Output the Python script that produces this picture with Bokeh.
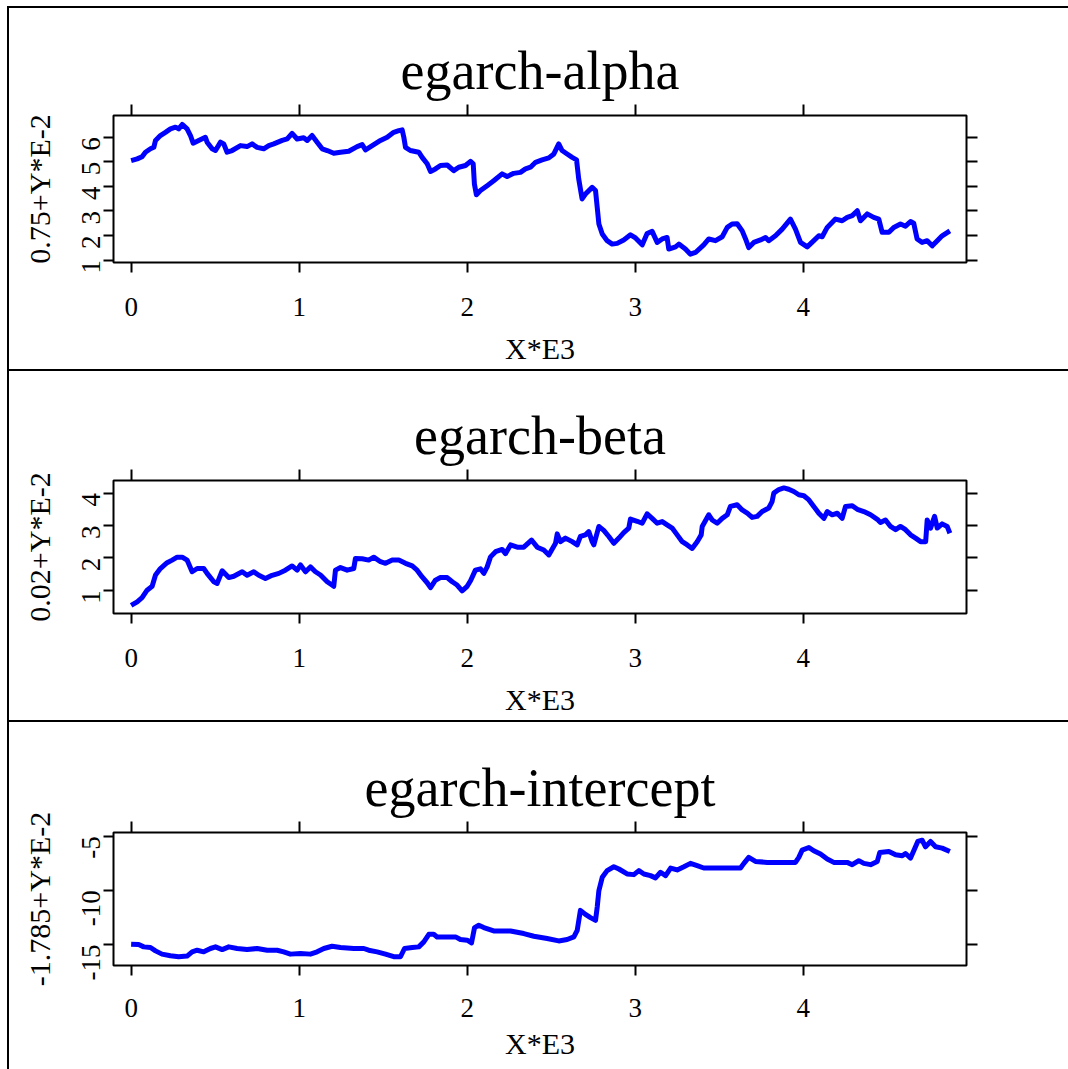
import math
from bokeh.plotting import figure
from bokeh.layouts import column, row
from bokeh.models import LinearAxis, FixedTicker, Range1d, Spacer
from bokeh.embed import file_html
from bokeh.resources import INLINE

FONT = "Liberation Serif"

# ---------------- data (x in thousands, as on the "X*E3" axis) ----------------
x_ticks = [0, 1, 2, 3, 4]

alpha_x = [0, 0.036, 0.065, 0.085, 0.115, 0.135, 0.145, 0.174, 0.204, 0.234,
           0.264, 0.283, 0.304, 0.333, 0.353, 0.369, 0.402, 0.442, 0.452, 0.482,
           0.502, 0.532, 0.551, 0.571, 0.601, 0.651, 0.690, 0.720, 0.750, 0.789,
           0.819, 0.849, 0.899, 0.929, 0.958, 0.988, 1.027, 1.048, 1.077, 1.107,
           1.137, 1.167, 1.206, 1.246, 1.295, 1.345, 1.375, 1.395, 1.435, 1.484,
           1.524, 1.563, 1.593, 1.613, 1.623, 1.633, 1.662, 1.712, 1.732, 1.762,
           1.782, 1.811, 1.841, 1.881, 1.920, 1.950, 1.990, 2.020, 2.036, 2.043,
           2.055, 2.079, 2.119, 2.158, 2.208, 2.238, 2.277, 2.317, 2.347, 2.377,
           2.407, 2.446, 2.486, 2.516, 2.545, 2.565, 2.595, 2.625, 2.651, 2.664,
           2.684, 2.704, 2.744, 2.764, 2.774, 2.784, 2.804, 2.833, 2.863, 2.893,
           2.932, 2.972, 3.002, 3.042, 3.071, 3.101, 3.131, 3.161, 3.190, 3.200,
           3.240, 3.260, 3.299, 3.329, 3.359, 3.408, 3.438, 3.478, 3.518, 3.548,
           3.577, 3.607, 3.637, 3.657, 3.676, 3.706, 3.746, 3.776, 3.795, 3.835,
           3.875, 3.924, 3.954, 3.984, 4.024, 4.063, 4.093, 4.113, 4.143, 4.192,
           4.232, 4.262, 4.292, 4.322, 4.341, 4.381, 4.420, 4.450, 4.470, 4.510,
           4.539, 4.579, 4.609, 4.639, 4.658, 4.678, 4.708, 4.738, 4.768, 4.798,
           4.827, 4.873]
alpha_y = [5.05, 5.12, 5.21, 5.39, 5.53, 5.59, 5.87, 6.07, 6.20, 6.34,
           6.41, 6.34, 6.52, 6.34, 6.07, 5.76, 5.87, 6.00, 5.80, 5.53,
           5.46, 5.80, 5.73, 5.39, 5.46, 5.66, 5.62, 5.73, 5.59, 5.53,
           5.66, 5.73, 5.87, 5.93, 6.16, 5.93, 5.98, 5.87, 6.07, 5.80,
           5.53, 5.46, 5.35, 5.39, 5.43, 5.62, 5.70, 5.49, 5.66, 5.87,
           6.00, 6.20, 6.27, 6.30, 6.00, 5.59, 5.46, 5.39, 5.18, 4.92,
           4.61, 4.71, 4.85, 4.87, 4.64, 4.78, 4.85, 5.02, 4.92, 4.10,
           3.66, 3.83, 4.03, 4.23, 4.51, 4.40, 4.53, 4.57, 4.71, 4.78,
           4.98, 5.08, 5.16, 5.32, 5.73, 5.46, 5.32, 5.18, 5.08, 4.30,
           3.49, 3.69, 3.96, 3.83, 3.15, 2.47, 2.06, 1.79, 1.65, 1.68,
           1.82, 2.03, 1.90, 1.62, 2.08, 2.17, 1.72, 1.86, 1.92, 1.45,
           1.54, 1.65, 1.45, 1.24, 1.31, 1.62, 1.86, 1.79, 1.95, 2.33,
           2.47, 2.48, 2.19, 1.86, 1.51, 1.72, 1.82, 1.92, 1.79, 1.99,
           2.26, 2.67, 2.26, 1.72, 1.54, 1.79, 1.99, 1.95, 2.33, 2.67,
           2.60, 2.74, 2.81, 3.01, 2.60, 2.88, 2.74, 2.67, 2.13, 2.13,
           2.33, 2.47, 2.38, 2.57, 2.50, 1.86, 1.72, 1.79, 1.58, 1.79,
           1.99, 2.19]
alpha_ticks = [1, 2, 3, 4, 5, 6]

beta_x = [0, 0.036, 0.065, 0.095, 0.125, 0.145, 0.174, 0.214, 0.244, 0.274,
          0.304, 0.333, 0.363, 0.393, 0.432, 0.452, 0.492, 0.512, 0.542, 0.581,
          0.611, 0.661, 0.690, 0.730, 0.760, 0.799, 0.839, 0.879, 0.918, 0.958,
          0.988, 1.008, 1.038, 1.067, 1.097, 1.127, 1.167, 1.206, 1.216, 1.246,
          1.286, 1.325, 1.335, 1.375, 1.414, 1.444, 1.484, 1.514, 1.554, 1.593,
          1.633, 1.673, 1.702, 1.732, 1.762, 1.782, 1.811, 1.841, 1.881, 1.911,
          1.940, 1.970, 2.000, 2.020, 2.049, 2.079, 2.099, 2.119, 2.139, 2.169,
          2.208, 2.228, 2.258, 2.298, 2.337, 2.383, 2.417, 2.456, 2.486, 2.526,
          2.536, 2.555, 2.585, 2.625, 2.655, 2.674, 2.704, 2.724, 2.744, 2.754,
          2.784, 2.813, 2.843, 2.873, 2.903, 2.932, 2.962, 2.972, 3.012, 3.042,
          3.071, 3.101, 3.131, 3.161, 3.190, 3.220, 3.250, 3.280, 3.310, 3.339,
          3.369, 3.393, 3.399, 3.438, 3.458, 3.488, 3.518, 3.548, 3.567, 3.607,
          3.637, 3.667, 3.696, 3.726, 3.756, 3.795, 3.815, 3.825, 3.855, 3.885,
          3.914, 3.944, 3.974, 4.004, 4.034, 4.063, 4.093, 4.123, 4.143, 4.173,
          4.203, 4.232, 4.252, 4.292, 4.322, 4.361, 4.401, 4.441, 4.460, 4.490,
          4.520, 4.550, 4.579, 4.609, 4.639, 4.669, 4.699, 4.729, 4.738, 4.758,
          4.782, 4.798, 4.827, 4.857, 4.873]
beta_y = [0.53, 0.64, 0.77, 1.00, 1.12, 1.47, 1.67, 1.85, 1.93, 2.02,
          2.02, 1.93, 1.57, 1.67, 1.67, 1.52, 1.26, 1.21, 1.60, 1.39,
          1.43, 1.57, 1.46, 1.57, 1.46, 1.36, 1.46, 1.52, 1.62, 1.75,
          1.62, 1.78, 1.57, 1.72, 1.57, 1.47, 1.26, 1.12, 1.62, 1.70,
          1.62, 1.67, 1.98, 1.97, 1.93, 2.02, 1.88, 1.83, 1.93, 1.93,
          1.83, 1.75, 1.62, 1.41, 1.23, 1.08, 1.31, 1.39, 1.39, 1.26,
          1.16, 0.98, 1.12, 1.29, 1.62, 1.66, 1.52, 1.72, 2.03, 2.19,
          2.26, 2.13, 2.40, 2.33, 2.33, 2.55, 2.33, 2.24, 2.09, 2.45,
          2.74, 2.50, 2.61, 2.50, 2.40, 2.66, 2.71, 2.81, 2.50, 2.40,
          2.97, 2.85, 2.66, 2.45, 2.61, 2.78, 2.92, 3.20, 3.13, 3.07,
          3.36, 3.22, 3.07, 3.12, 3.02, 2.92, 2.71, 2.50, 2.40, 2.29,
          2.50, 2.71, 2.97, 3.33, 3.17, 3.07, 3.22, 3.33, 3.59, 3.64,
          3.48, 3.38, 3.25, 3.28, 3.43, 3.54, 3.74, 4.00, 4.11, 4.16,
          4.12, 4.05, 3.95, 3.92, 3.79, 3.59, 3.38, 3.22, 3.43, 3.33,
          3.38, 3.22, 3.59, 3.61, 3.50, 3.43, 3.33, 3.19, 3.09, 3.17,
          2.97, 2.87, 2.97, 2.87, 2.71, 2.61, 2.50, 2.50, 3.17, 2.92,
          3.28, 2.92, 3.05, 2.97, 2.76]
beta_ticks = [1, 2, 3, 4]

icpt_x = [0, 0.045, 0.075, 0.115, 0.145, 0.184, 0.234, 0.283, 0.333, 0.363,
          0.393, 0.432, 0.472, 0.502, 0.542, 0.581, 0.631, 0.690, 0.750, 0.810,
          0.869, 0.908, 0.948, 1.008, 1.067, 1.107, 1.147, 1.196, 1.246, 1.325,
          1.385, 1.414, 1.464, 1.514, 1.563, 1.603, 1.627, 1.673, 1.712, 1.742,
          1.772, 1.801, 1.821, 1.881, 1.931, 1.960, 2.000, 2.026, 2.044, 2.069,
          2.099, 2.158, 2.258, 2.337, 2.397, 2.476, 2.545, 2.595, 2.635, 2.655,
          2.674, 2.704, 2.734, 2.764, 2.774, 2.784, 2.804, 2.833, 2.873, 2.903,
          2.952, 2.992, 3.022, 3.052, 3.091, 3.121, 3.151, 3.181, 3.211, 3.250,
          3.290, 3.329, 3.369, 3.408, 3.488, 3.567, 3.627, 3.647, 3.676, 3.716,
          3.786, 3.865, 3.954, 3.974, 3.994, 4.034, 4.063, 4.103, 4.143, 4.182,
          4.262, 4.292, 4.331, 4.361, 4.401, 4.441, 4.456, 4.510, 4.550, 4.590,
          4.609, 4.639, 4.658, 4.682, 4.708, 4.728, 4.758, 4.788, 4.827, 4.873]
icpt_y = [-14.97, -15.00, -15.22, -15.28, -15.59, -15.89, -16.04, -16.13, -16.07, -15.68,
          -15.53, -15.68, -15.37, -15.22, -15.47, -15.22, -15.37, -15.47, -15.37, -15.53,
          -15.53, -15.68, -15.89, -15.83, -15.89, -15.68, -15.37, -15.16, -15.28, -15.37,
          -15.37, -15.53, -15.68, -15.89, -16.13, -16.13, -15.37, -15.28, -15.22, -14.76,
          -14.06, -14.06, -14.30, -14.30, -14.30, -14.54, -14.60, -14.85, -13.44, -13.23,
          -13.44, -13.75, -13.75, -13.99, -14.24, -14.45, -14.67, -14.54, -14.30, -13.69,
          -11.85, -12.22, -12.52, -12.77, -11.55, -10.02, -8.80, -8.18, -7.82, -8.03,
          -8.49, -8.55, -8.18, -8.49, -8.64, -8.85, -8.33, -8.64, -7.94, -8.12,
          -7.82, -7.51, -7.72, -7.94, -7.94, -7.94, -7.94, -7.51, -6.96, -7.33,
          -7.42, -7.42, -7.42, -6.96, -6.29, -6.04, -6.35, -6.65, -7.11, -7.42,
          -7.42, -7.63, -7.26, -7.51, -7.63, -7.33, -6.50, -6.41, -6.72, -6.81,
          -6.60, -7.02, -6.35, -5.49, -5.37, -5.98, -5.49, -5.98, -6.10, -6.41]
icpt_ticks = [-15, -10, -5]

titles = ["egarch-alpha", "egarch-beta", "egarch-intercept"]
ylabels = ["0.75+Y*E-2", "0.02+Y*E-2", "-1.785+Y*E-2"]
xlabel = "X*E3"


def style_axis(ax, ticks, tick_out, show_labels):
    ax.ticker = FixedTicker(ticks=ticks)
    ax.axis_line_color = None
    ax.major_tick_line_color = "black"
    ax.major_tick_line_width = 2
    ax.major_tick_in = 0
    ax.major_tick_out = tick_out
    ax.minor_tick_line_color = None
    ax.major_label_text_font = FONT
    ax.major_label_text_color = "black"
    ax.major_label_text_font_size = "27px"
    if show_labels:
        # plain ASCII hyphen for negative numbers, as in the reference
        ax.major_label_overrides = {t: str(t) for t in ticks}
    else:
        ax.major_label_overrides = {t: "" for t in ticks}
        ax.major_label_standoff = 0


def panel(title, ylabel, xs, ys, yr, yticks, height, top, frame_h,
          xlab_standoff=25, xaxis_label_standoff=13):
    n = min(len(xs), len(ys))
    p = figure(width=1059, height=height,
               x_range=Range1d(-0.105, 4.972), y_range=Range1d(*yr),
               output_backend="svg", toolbar_location=None,
               min_border_left=104, min_border_right=102,
               min_border_top=top, min_border_bottom=height - top - frame_h,
               background_fill_color="white", border_fill_color="white")
    p.grid.visible = False
    p.outline_line_color = "black"
    p.outline_line_width = 2

    p.title.text = title
    p.title.align = "center"
    p.title.text_font = FONT
    p.title.text_font_size = "54px"
    p.title.text_font_style = "normal"
    p.title.text_color = "black"
    p.title.standoff = 7

    xa = p.xaxis[0]
    style_axis(xa, x_ticks, 10, True)
    xa.major_label_standoff = xlab_standoff
    xa.axis_label = xlabel
    xa.axis_label_text_font = FONT
    xa.axis_label_text_font_size = "30px"
    xa.axis_label_text_font_style = "normal"
    xa.axis_label_text_color = "black"
    xa.axis_label_standoff = xaxis_label_standoff

    ya = p.yaxis[0]
    style_axis(ya, yticks, 10, True)
    ya.major_label_orientation = math.pi / 2
    ya.major_label_standoff = 12
    ya.axis_label = ylabel
    ya.axis_label_text_font = FONT
    ya.axis_label_text_font_size = "30px"
    ya.axis_label_text_font_style = "normal"
    ya.axis_label_text_color = "black"
    ya.axis_label_standoff = 15

    top_ax = LinearAxis()
    style_axis(top_ax, x_ticks, 11, False)
    p.add_layout(top_ax, "above")
    right_ax = LinearAxis()
    style_axis(right_ax, yticks, 11, False)
    p.add_layout(right_ax, "right")

    p.line(xs[:n], ys[:n], line_color="#0000ff", line_width=5, line_join="round")
    return p


def black_bar(w, h):
    return Spacer(width=w, height=h, margin=0,
                  styles={"background-color": "black"})


p1 = panel(titles[0], ylabels[0], alpha_x, alpha_y, (0.902, 6.885), alpha_ticks, 361, 107, 147)
p2 = panel(titles[1], ylabels[1], beta_x, beta_y, (0.28, 4.39), beta_ticks, 349, 109, 133)
p3 = panel(titles[2], ylabels[2], icpt_x, icpt_y, (-16.94, -4.66), icpt_ticks, 347, 110, 133,
           xlab_standoff=23, xaxis_label_standoff=7)

inner = column(black_bar(1059, 2), p1, black_bar(1059, 2), p2, black_bar(1059, 2), p3, spacing=0)
body = row(Spacer(width=7, height=1063), black_bar(2, 1063), inner, spacing=0)
root = column(Spacer(width=1068, height=6), body, spacing=0)

open("out.html", "w").write(file_html(root, INLINE))
